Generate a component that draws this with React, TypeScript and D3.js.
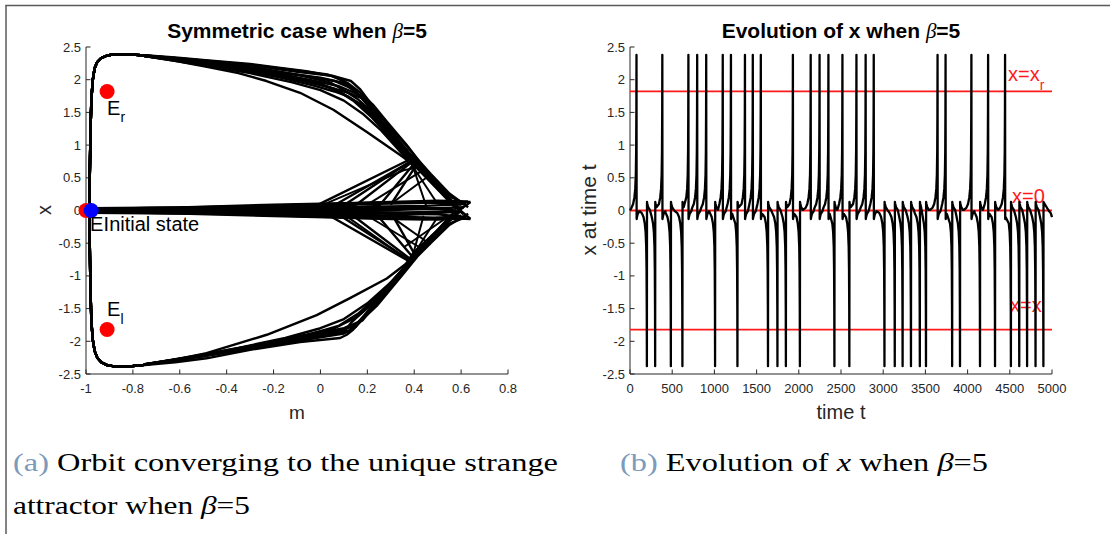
import React from "react";
import * as d3 from "d3";

const W = 1110;
const H = 534;

// ---- axis ticks ----
const mTicks = [-1, -0.8, -0.6, -0.4, -0.2, 0, 0.2, 0.4, 0.6, 0.8];
const xTicks = [-2.5, -2, -1.5, -1, -0.5, 0, 0.5, 1, 1.5, 2, 2.5];
const tTicks = [0, 500, 1000, 1500, 2000, 2500, 3000, 3500, 4000, 4500, 5000];

// ---- equilibria and initial state (m, x) ----
const xRight = 1.82;
const xLeft = -1.82;
const eqRight: [number, number] = [-0.91, 1.82];
const eqLeft: [number, number] = [-0.91, -1.82];
const eqCenter: [number, number] = [-1.0, 0];
const initialState: [number, number] = [-0.978, 0];

// ---- phase-plane orbit: upper excursions (m, x) ----
const upperStrands: [number, number][][] = [
  [[0.64, -0.13], [0.59, 0.02], [0.53, 0.27], [0.482, 0.49], [0.42, 0.76], [0.368, 1.0], [0.283, 1.36], [0.226, 1.61], [0.17, 1.8], [0.12, 1.94], [0.055, 2.05], [-0.06, 2.13], [-0.17, 2.18], [-0.3, 2.24], [-0.49, 2.3], [-0.62, 2.34], [-0.75, 2.375]],
  [[0.61, -0.06], [0.58, 0.04], [0.5, 0.38], [0.44, 0.64], [0.4, 0.8], [0.34, 1.02], [0.26, 1.36], [0.2, 1.62], [0.15, 1.82], [0.1, 1.98], [0.03, 2.08], [-0.1, 2.14], [-0.3, 2.23], [-0.49, 2.29], [-0.75, 2.37]],
  [[0.58, 0.02], [0.5, 0.33], [0.43, 0.6], [0.39, 0.72], [0.34, 0.85], [0.198, 1.2], [0.055, 1.54], [-0.087, 1.8], [-0.23, 1.98], [-0.35, 2.1], [-0.49, 2.2], [-0.62, 2.29], [-0.75, 2.36]],
  [[0.05, 0.06], [0.385, 0.75], [0.3, 1.1], [0.22, 1.42], [0.14, 1.68], [0.06, 1.86], [-0.05, 1.98], [-0.2, 2.09], [-0.4, 2.2], [-0.6, 2.3], [-0.75, 2.36]],
  [[0.15, 0.08], [0.39, 0.74], [0.32, 1.05], [0.25, 1.4], [0.2, 1.62], [0.16, 1.78], [0.1, 1.95], [0.0, 2.03], [-0.15, 2.1], [-0.35, 2.2], [-0.55, 2.29], [-0.75, 2.365]],
  [[0.25, 0.07], [0.4, 0.72], [0.35, 0.96], [0.28, 1.28], [0.22, 1.55], [0.18, 1.72], [0.13, 1.87], [0.06, 1.98], [-0.05, 2.05], [-0.25, 2.16], [-0.5, 2.27], [-0.75, 2.37]],
  [[0.62, 0.1], [0.56, 0.2], [0.47, 0.5], [0.41, 0.7], [0.33, 1.0], [0.24, 1.38], [0.17, 1.62], [0.09, 1.8], [0.0, 1.94], [-0.12, 2.05], [-0.3, 2.17], [-0.55, 2.29], [-0.75, 2.365]],
  [[-0.02, 0.07], [0.37, 0.76], [0.3, 1.15], [0.23, 1.5], [0.19, 1.7], [0.12, 1.8], [0.02, 1.9], [-0.1, 2.0], [-0.3, 2.14], [-0.55, 2.27], [-0.75, 2.36]],
  [[0.6, 0.0], [0.52, 0.3], [0.45, 0.58], [0.4, 0.78], [0.35, 0.98], [0.3, 1.2], [0.23, 1.48], [0.16, 1.7], [0.1, 1.84], [0.04, 1.96], [-0.08, 2.06], [-0.25, 2.17], [-0.5, 2.28], [-0.75, 2.37]],
  [[0.63, 0.05], [0.55, 0.26], [0.47, 0.56], [0.41, 0.8], [0.36, 1.02], [0.3, 1.26], [0.25, 1.46], [0.21, 1.66], [0.17, 1.85], [0.13, 1.98], [0.05, 2.06], [-0.1, 2.12], [-0.3, 2.22], [-0.55, 2.31], [-0.75, 2.37]],
  [[0.1, 0.08], [0.38, 0.74], [0.33, 0.94], [0.26, 1.22], [0.18, 1.48], [0.1, 1.68], [0.0, 1.84], [-0.12, 1.96], [-0.3, 2.1], [-0.5, 2.22], [-0.75, 2.36]],
  [[0.3, 0.09], [0.41, 0.7], [0.37, 0.92], [0.31, 1.18], [0.27, 1.38], [0.22, 1.6], [0.17, 1.76], [0.08, 1.9], [-0.05, 2.0], [-0.2, 2.1], [-0.45, 2.24], [-0.75, 2.365]],
  [[0.59, 0.03], [0.5, 0.36], [0.43, 0.66], [0.38, 0.86], [0.32, 1.1], [0.27, 1.3], [0.2, 1.56], [0.12, 1.74], [0.06, 1.82], [-0.04, 1.92], [-0.18, 2.04], [-0.4, 2.19], [-0.75, 2.36]],
];
const upperTrunk: [number, number][] = [
  [-0.75, 2.37], [-0.8, 2.383], [-0.85, 2.39], [-0.88, 2.388], [-0.91, 2.37], [-0.935, 2.33], [-0.952, 2.27], [-0.963, 2.18], [-0.971, 2.0], [-0.977, 1.7], [-0.981, 1.2], [-0.984, 0.5], [-0.985, 0.03],
];

// ---- phase-plane orbit: lower excursions (m, x) ----
const lowerStrands: [number, number][][] = [
  [[0.64, 0.13], [0.59, 0.0], [0.5, -0.3], [0.44, -0.5], [0.396, -0.65], [0.34, -0.95], [0.283, -1.24], [0.2, -1.58], [0.14, -1.82], [0.112, -1.9], [0.084, -1.95], [-0.087, -2.01], [-0.3, -2.13], [-0.486, -2.26], [-0.62, -2.32], [-0.75, -2.365]],
  [[0.58, -0.02], [0.5, -0.3], [0.43, -0.55], [0.396, -0.73], [0.283, -1.04], [0.126, -1.34], [-0.016, -1.6], [-0.229, -1.9], [-0.486, -2.18], [-0.62, -2.28], [-0.75, -2.35]],
  [[0.03, -0.06], [0.38, -0.78], [0.3, -1.1], [0.2, -1.42], [0.1, -1.66], [0.0, -1.8], [-0.15, -1.95], [-0.35, -2.1], [-0.55, -2.24], [-0.75, -2.35]],
  [[0.14, -0.08], [0.39, -0.76], [0.32, -1.08], [0.24, -1.42], [0.17, -1.7], [0.12, -1.84], [0.04, -1.9], [-0.1, -1.98], [-0.3, -2.1], [-0.55, -2.25], [-0.75, -2.355]],
  [[0.24, -0.06], [0.4, -0.74], [0.34, -0.98], [0.27, -1.3], [0.2, -1.55], [0.15, -1.75], [0.08, -1.85], [-0.05, -1.92], [-0.25, -2.05], [-0.5, -2.22], [-0.75, -2.355]],
  [[0.62, -0.1], [0.55, -0.2], [0.47, -0.48], [0.41, -0.7], [0.33, -1.0], [0.24, -1.32], [0.16, -1.58], [0.08, -1.76], [-0.05, -1.9], [-0.25, -2.06], [-0.5, -2.23], [-0.75, -2.355]],
  [[0.61, 0.05], [0.56, -0.06], [0.48, -0.38], [0.42, -0.62], [0.36, -0.88], [0.3, -1.14], [0.22, -1.5], [0.18, -1.68], [0.1, -1.8], [-0.02, -1.88], [-0.2, -2.0], [-0.45, -2.18], [-0.75, -2.355]],
  [[0.6, 0.0], [0.52, -0.26], [0.45, -0.52], [0.4, -0.7], [0.35, -0.92], [0.29, -1.18], [0.22, -1.44], [0.15, -1.64], [0.06, -1.8], [-0.06, -1.9], [-0.25, -2.04], [-0.5, -2.2], [-0.75, -2.355]],
  [[0.08, -0.07], [0.385, -0.77], [0.33, -0.98], [0.26, -1.26], [0.19, -1.52], [0.13, -1.72], [0.1, -1.86], [0.0, -1.93], [-0.15, -2.02], [-0.35, -2.14], [-0.6, -2.28], [-0.75, -2.36]],
  [[0.31, -0.09], [0.41, -0.72], [0.36, -0.94], [0.3, -1.2], [0.24, -1.46], [0.18, -1.66], [0.13, -1.78], [0.05, -1.86], [-0.1, -1.96], [-0.3, -2.09], [-0.55, -2.25], [-0.75, -2.355]],
  [[0.63, -0.05], [0.55, -0.22], [0.47, -0.5], [0.42, -0.68], [0.37, -0.86], [0.31, -1.1], [0.25, -1.34], [0.19, -1.6], [0.15, -1.78], [0.1, -1.88], [-0.02, -1.95], [-0.2, -2.05], [-0.45, -2.2], [-0.75, -2.36]],
];
const lowerTrunk: [number, number][] = [
  [-0.75, -2.36], [-0.8, -2.378], [-0.85, -2.385], [-0.88, -2.383], [-0.91, -2.365], [-0.935, -2.32], [-0.952, -2.25], [-0.963, -2.15], [-0.971, -1.98], [-0.977, -1.7], [-0.981, -1.2], [-0.984, -0.5], [-0.985, -0.03],
];

// ---- slow drift along x ≈ 0 (m, x) ----
const bandLines: [number, number][][] = [
  [[-0.985, 0.03], [-0.8, 0.035], [-0.5, 0.05], [-0.2, 0.07], [0.1, 0.09], [0.35, 0.11], [0.55, 0.12], [0.64, 0.13]],
  [[-0.985, 0.015], [-0.5, 0.03], [-0.1, 0.045], [0.2, 0.06], [0.45, 0.07], [0.62, 0.1]],
  [[-0.985, 0.0], [-0.5, 0.01], [0.0, 0.02], [0.3, 0.025], [0.5, 0.02], [0.58, 0.0]],
  [[-0.985, -0.01], [-0.5, -0.02], [0.0, -0.035], [0.3, -0.05], [0.5, -0.06], [0.62, -0.1]],
  [[-0.985, -0.025], [-0.8, -0.03], [-0.5, -0.045], [-0.2, -0.065], [0.1, -0.085], [0.35, -0.1], [0.55, -0.115], [0.64, -0.13]],
  [[-0.985, 0.02], [-0.5, 0.04], [-0.2, 0.05], [0.05, 0.06]],
  [[-0.985, 0.01], [-0.5, 0.025], [0.0, 0.05], [0.15, 0.08]],
  [[-0.985, -0.005], [-0.5, 0.0], [0.1, 0.04], [0.25, 0.07]],
  [[-0.985, -0.02], [-0.5, -0.04], [0.0, -0.055], [0.03, -0.06]],
  [[-0.985, -0.01], [-0.5, -0.03], [0.0, -0.06], [0.14, -0.08]],
  [[-0.985, 0.0], [-0.5, -0.01], [0.1, -0.04], [0.24, -0.06]],
  [[-0.985, 0.005], [-0.3, 0.0], [0.2, -0.01], [0.61, 0.05]],
  [[-0.985, 0.0], [-0.3, -0.02], [0.3, -0.08], [0.58, -0.02]],
  [[-0.985, 0.035], [-0.6, 0.045], [-0.2, 0.09], [0.2, 0.12], [0.45, 0.13], [0.6, 0.09]],
  [[-0.985, -0.035], [-0.6, -0.045], [-0.2, -0.085], [0.2, -0.12], [0.45, -0.13], [0.6, -0.08]],
  [[-0.985, 0.025], [-0.4, 0.06], [0.05, 0.1], [0.3, 0.13], [0.5, 0.15], [0.63, 0.14]],
  [[-0.985, -0.025], [-0.4, -0.055], [0.05, -0.1], [0.3, -0.13], [0.5, -0.14], [0.63, -0.12]],
  [[-0.985, 0.01], [-0.6, 0.02], [-0.1, 0.03], [0.35, 0.04], [0.56, 0.03]],
  [[-0.985, -0.01], [-0.6, -0.015], [-0.1, -0.02], [0.35, -0.03], [0.56, -0.02]],
];

// ---- short transitions crossing the two triangles (m, x) ----
const crossLines: [number, number][][] = [
  [[0.38, 0.75], [0.5, 0.1]],
  [[0.3, 0.1], [0.47, 0.55]],
  [[0.2, 0.09], [0.44, 0.62]],
  [[0.39, 0.72], [0.45, 0.08]],
  [[0.0, 0.07], [0.36, 0.62], [0.42, 0.66]],
  [[0.38, 0.76], [0.56, 0.1]],
  [[0.38, -0.77], [0.5, -0.1]],
  [[0.3, -0.09], [0.47, -0.52]],
  [[0.1, -0.06], [0.36, -0.72]],
  [[0.39, -0.74], [0.44, -0.08]],
  [[0.36, -0.55], [0.55, -0.08]],
  [[0.2, -0.08], [0.44, -0.6]],
];

// ---- time series: spike times ----
const upSpikeTimes = [77, 383, 692, 796, 903, 1099, 1196, 1362, 1455, 1550, 1930, 2141, 2246, 2351, 2517, 2683, 2792, 2888, 3644, 3739, 4045, 4243, 4444];
const downSpikeTimes = [200, 298, 484, 621, 1008, 1273, 1635, 1747, 1847, 2013, 2422, 2599, 3015, 3137, 3230, 3329, 3434, 3507, 3817, 3910, 4147, 4325, 4513, 4612, 4705, 4805, 4898];
// spike shape: slow departure from 0, fast jump, overshoot and relaxation
const riseOffsets = [-90, -60, -40, -25, -15, -8, -4, -1.5, 0];
const riseValues = [0.01, 0.04, 0.1, 0.2, 0.33, 0.55, 0.9, 1.5, 2.38];
const fallOffsets = [1.5, 6, 15, 35];
const fallValues = [-0.13, -0.1, -0.05, -0.01];
const seriesStart: [number, number][] = [[0, 0]];
const seriesTail: [number, number][] = [[4960, 0.0], [4985, -0.04], [5000, -0.1]];

function buildSeries(): [number, number][] {
  const events = [
    ...upSpikeTimes.map((t) => ({ t, s: 1 })),
    ...downSpikeTimes.map((t) => ({ t, s: -1 })),
  ].sort((a, b) => a.t - b.t);
  const pts: [number, number][] = [...seriesStart];
  events.forEach((e, i) => {
    const prev = i > 0 ? events[i - 1].t : -Infinity;
    const next = i < events.length - 1 ? events[i + 1].t : 4950;
    riseOffsets.forEach((o, k) => {
      const t = e.t + o;
      if (t > 0 && t > prev + 40) pts.push([t, e.s * riseValues[k]]);
    });
    fallOffsets.forEach((o, k) => {
      const t = e.t + o;
      if (k === 0 || t < next - 55) pts.push([t, e.s * fallValues[k]]);
    });
  });
  seriesTail.forEach((p) => pts.push(p));
  return pts.sort((a, b) => a[0] - b[0]);
}

const FONT = "'Liberation Sans', Arial, Helvetica, sans-serif";
const SERIF = "'Liberation Serif', 'Times New Roman', serif";
const AXIS = "#262626";
const RED = "#ff1a1a";

export default function App() {
  // left panel scales
  const xL = d3.scaleLinear().domain([-1, 0.8]).range([86, 508]);
  const yL = d3.scaleLinear().domain([-2.5, 2.5]).range([374, 47]);
  // right panel scales
  const xR = d3.scaleLinear().domain([0, 5000]).range([630, 1052]);
  const yR = d3.scaleLinear().domain([-2.5, 2.5]).range([374, 47]);

  const lineL = d3
    .line<[number, number]>()
    .x((d) => xL(d[0]))
    .y((d) => yL(d[1]));
  const lineR = d3
    .line<[number, number]>()
    .x((d) => xR(d[0]))
    .y((d) => yR(d[1]));

  const series = buildSeries();
  const tick = 4.5;

  const yAxis = (x0: number, y: d3.ScaleLinear<number, number>) => (
    <g>
      <line x1={x0} x2={x0} y1={y(-2.5)} y2={y(2.5)} stroke={AXIS} strokeWidth={1} />
      {xTicks.map((v) => (
        <g key={v}>
          <line x1={x0} x2={x0 + tick} y1={y(v)} y2={y(v)} stroke={AXIS} strokeWidth={1} />
          <text x={x0 - 5} y={y(v) + 4.5} textAnchor="end" fontSize={13} fill={AXIS} fontFamily={FONT}>
            {String(v)}
          </text>
        </g>
      ))}
    </g>
  );

  const xAxis = (ticks: number[], x: d3.ScaleLinear<number, number>, y0: number) => (
    <g>
      <line x1={x(ticks[0])} x2={x(ticks[ticks.length - 1])} y1={y0} y2={y0} stroke={AXIS} strokeWidth={1} />
      {ticks.map((v) => (
        <g key={v}>
          <line x1={x(v)} x2={x(v)} y1={y0} y2={y0 - tick} stroke={AXIS} strokeWidth={1} />
          <text x={x(v)} y={y0 + 19} textAnchor="middle" fontSize={13} fill={AXIS} fontFamily={FONT}>
            {String(v)}
          </text>
        </g>
      ))}
    </g>
  );

  const blackLine = { fill: "none", stroke: "#000", strokeWidth: 2.4, strokeLinejoin: "round" as const };

  return (
    <svg width={W} height={H} style={{ position: "absolute", left: 0, top: 0, background: "#fff" }}>
      <rect x={0} y={0} width={W} height={H} fill="#fff" />
      {/* page frame */}
      <line x1={5.5} x2={W} y1={5.5} y2={5.5} stroke="#5a5a5a" strokeWidth={1.5} />
      <line x1={6} x2={6} y1={5} y2={H} stroke="#5a5a5a" strokeWidth={1.5} />

      {/* ===== left panel: phase plane ===== */}
      <text x={297} y={38} textAnchor="middle" fontSize={21} fontWeight="bold" fontFamily={FONT} fill="#000">
        Symmetric case when{" "}
        <tspan fontFamily={SERIF} fontStyle="italic" fontWeight="normal">β</tspan>=5
      </text>
      {yAxis(86, yL)}
      {xAxis(mTicks, xL, 374)}
      <text x={297} y={419} textAnchor="middle" fontSize={19} fontFamily={FONT} fill={AXIS}>m</text>
      <text transform={`translate(51,210) rotate(-90)`} textAnchor="middle" fontSize={20} fontFamily={FONT} fill={AXIS}>x</text>

      <g>
        {bandLines.map((d, i) => (
          <path key={"b" + i} d={lineL(d) || ""} {...blackLine} />
        ))}
        {crossLines.map((d, i) => (
          <path key={"c" + i} d={lineL(d) || ""} {...blackLine} strokeWidth={2} />
        ))}
        {upperStrands.map((d, i) => (
          <path key={"u" + i} d={lineL([...d, ...upperTrunk]) || ""} {...blackLine} />
        ))}
        {lowerStrands.map((d, i) => (
          <path key={"l" + i} d={lineL([...d, ...lowerTrunk]) || ""} {...blackLine} />
        ))}
      </g>

      <circle cx={xL(eqRight[0])} cy={yL(eqRight[1])} r={7.5} fill="#ff0000" />
      <circle cx={xL(eqLeft[0])} cy={yL(eqLeft[1])} r={7.5} fill="#ff0000" />
      <circle cx={xL(eqCenter[0])} cy={yL(eqCenter[1])} r={7.5} fill="#ff0000" />
      <circle cx={xL(initialState[0])} cy={yL(initialState[1])} r={7.5} fill="#0000ff" />

      <text x={xL(-0.91)} y={yL(1.46)} fontSize={20} fontFamily={FONT} fill="#000">
        E<tspan fontSize={14} dy={7}>r</tspan>
      </text>
      <text x={xL(-0.91)} y={yL(-1.61)} fontSize={20} fontFamily={FONT} fill="#000">
        E<tspan fontSize={14} dy={8}>l</tspan>
      </text>
      <text x={xL(-0.983)} y={yL(-0.32)} fontSize={20} fontFamily={FONT} fill="#000">E</text>
      <text x={xL(-0.925)} y={yL(-0.32)} fontSize={20} fontFamily={FONT} fill="#000">Initial state</text>

      {/* ===== right panel: x(t) ===== */}
      <text x={841} y={38} textAnchor="middle" fontSize={21} fontWeight="bold" fontFamily={FONT} fill="#000">
        Evolution of x when{" "}
        <tspan fontFamily={SERIF} fontStyle="italic" fontWeight="normal">β</tspan>=5
      </text>
      {yAxis(630, yR)}
      {xAxis(tTicks, xR, 374)}
      <text x={841} y={419} textAnchor="middle" fontSize={20} fontFamily={FONT} fill={AXIS}>time t</text>
      <text transform={`translate(596,210) rotate(-90)`} textAnchor="middle" fontSize={21} fontFamily={FONT} fill={AXIS}>x at time t</text>

      {[xRight, 0, xLeft].map((v) => (
        <line key={v} x1={xR(0)} x2={xR(5000)} y1={yR(v)} y2={yR(v)} stroke={RED} strokeWidth={1.8} />
      ))}
      <text x={1008} y={yR(1.98)} fontSize={20} fontFamily={FONT} fill={RED}>
        x=x<tspan fontSize={14} dy={9}>r</tspan>
      </text>
      <text x={1012} y={yR(0.11)} fontSize={20} fontFamily={FONT} fill={RED}>x=0</text>
      <text x={1010} y={yR(-1.55)} fontSize={20} fontFamily={FONT} fill={RED}>
        x=x<tspan fontSize={14} dy={10}>l</tspan>
      </text>

      <path d={lineR(series) || ""} {...blackLine} strokeWidth={2.3} />

      {/* ===== captions ===== */}
      <text x={13} y={471} fontSize={25} fontFamily={SERIF} fill="#000" textLength={545} lengthAdjust="spacingAndGlyphs">
        <tspan fill="#7c9abb">(a)</tspan> Orbit converging to the unique strange
      </text>
      <text x={13} y={514} fontSize={25} fontFamily={SERIF} fill="#000" textLength={237} lengthAdjust="spacingAndGlyphs">
        attractor when <tspan fontStyle="italic">β</tspan>=5
      </text>
      <text x={620} y={471} fontSize={25} fontFamily={SERIF} fill="#000" textLength={368} lengthAdjust="spacingAndGlyphs">
        <tspan fill="#7c9abb">(b)</tspan> Evolution of <tspan fontStyle="italic">x</tspan> when <tspan fontStyle="italic">β</tspan>=5
      </text>
    </svg>
  );
}
